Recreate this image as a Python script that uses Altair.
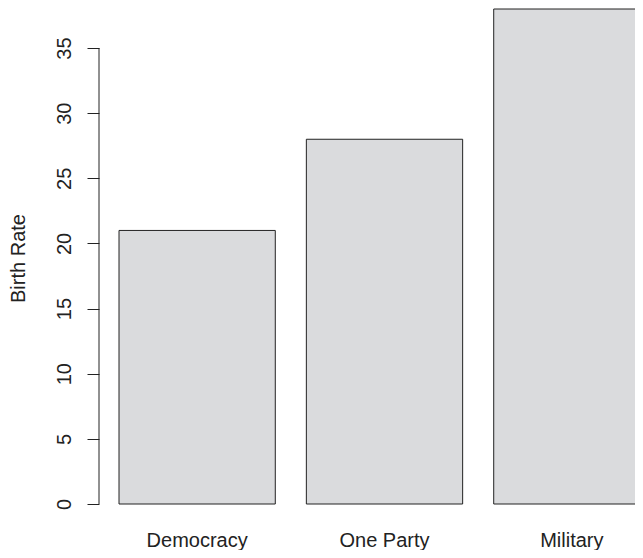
import altair as alt
import pandas as pd

# Data
regimes = ["Democracy", "One Party", "Military"]
birth_rates = [21, 28, 38]
y_ticks = [0, 5, 10, 15, 20, 25, 30, 35]

df = pd.DataFrame({"regime": regimes, "rate": birth_rates})
axis_df = pd.DataFrame({"lo": [y_ticks[0]], "hi": [y_ticks[-1]]})

FONT = "Liberation Sans"
FS = 20
INK = "#222222"

yscale = alt.Scale(domain=[0, 38], nice=False, zero=True)

bars = alt.Chart(df).mark_bar(
    fill="#DADBDD", stroke=INK, strokeWidth=1
).encode(
    x=alt.X(
        "regime:N",
        sort=regimes,
        scale=alt.Scale(range=[20, 551], paddingInner=0.1658, paddingOuter=0),
        axis=alt.Axis(
            title=None, domain=False, ticks=False, labelAngle=0,
            labelFont=FONT, labelFontSize=FS, labelColor=INK,
            labelBaseline="alphabetic", labelPadding=42,
            labelAlign="center",
        ),
    ),
    y=alt.Y(
        "rate:Q",
        scale=yscale,
        axis=alt.Axis(
            title="Birth Rate", values=y_ticks, grid=False, domain=False,
            tickSize=12, tickColor=INK, tickWidth=1,
            labelAngle=270, labelAlign="center", labelBaseline="alphabetic",
            labelPadding=17, labelFont=FONT, labelFontSize=FS, labelColor=INK,
            titleFont=FONT, titleFontSize=FS, titleColor=INK,
            titleFontWeight="normal", titleAngle=270, titleAlign="center",
            titleBaseline="alphabetic", titleX=-75, titleY=249,
        ),
    ),
)

axis_line = alt.Chart(axis_df).mark_rule(color=INK, strokeWidth=1).encode(
    x=alt.value(0),
    y=alt.Y("lo:Q", scale=yscale),
    y2="hi:Q",
)

chart = alt.layer(bars, axis_line).properties(
    width=536,
    height=495,
    autosize=alt.AutoSizeParams(type="none"),
    padding={"left": 91, "top": 1, "right": 0, "bottom": 46},
).configure_view(stroke=None)

chart.save("out.html", embed_options={"renderer": "svg", "actions": False})
